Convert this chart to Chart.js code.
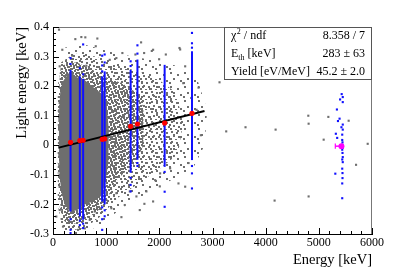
<!DOCTYPE html>
<html>
<head>
<meta charset="utf-8">
<script src="https://cdn.jsdelivr.net/npm/chart.js@4.4.0/dist/chart.umd.min.js"></script>
<style>
  html, body { margin: 0; padding: 0; background: #fff; }
</style>
</head>
<body>
<canvas id="c" width="399" height="270"></canvas>
<script>
// gamma lines used for the calibration (keV) and the mean light of each line
const lineEnergies = [330, 505, 567, 925, 972, 1460, 1588, 2100, 2614];
const lineMeans    = [0.010, 0.016, 0.017, 0.020, 0.022, 0.064, 0.072, 0.075, 0.108];
// vertical extent of the dense blue band of each line
const bandLow  = [-0.224, -0.241, -0.252, -0.190, -0.200, -0.093, -0.049, -0.073, -0.050];
const bandHigh = [0.255, 0.233, 0.225, 0.233, 0.250, 0.255, 0.290, 0.272, 0.318];
// isolated blue events of the lines
const strayBlue = [
  [330, 0.295], [330, 0.275], [330, -0.250], [330, -0.286], [330, -0.297], [505, 0.261],
  [505, -0.255], [505, -0.270], [567, 0.341], [567, 0.240], [567, -0.265], [567, -0.280],
  [925, 0.303], [925, 0.270], [925, 0.250], [925, -0.210], [925, -0.250], [925, -0.286],
  [972, 0.307], [972, 0.280], [972, -0.220], [972, -0.240], [1460, 0.284], [1460, 0.268],
  [1460, -0.110], [1460, -0.134], [1460, -0.156], [1588, 0.338], [1588, 0.310],
  [1588, -0.060], [1588, -0.070], [2100, -0.090], [2100, -0.157], [2100, -0.208],
  [2614, 0.380], [2614, 0.345], [2614, 0.330], [2614, -0.070], [2614, -0.095], [2614, -0.146]
];
// alpha events near 5.4 MeV
const alphaBlue = [
  [5430, 0.173], [5450, 0.163], [5400, 0.155], [5450, 0.146], [5340, 0.121],
  [5390, 0.090], [5360, 0.082], [5450, 0.070], [5425, 0.061], [5450, 0.053],
  [5320, 0.039], [5440, 0.036], [5345, 0.025], [5440, 0.018], [5445, 0.010],
  [5440, 0.002], [5450, -0.008], [5440, -0.015], [5445, -0.026], [5450, -0.040],
  [5440, -0.048], [5450, -0.057], [5440, -0.079], [5445, -0.094], [5310, -0.096],
  [5445, -0.111], [5440, -0.129], [5440, -0.179]
];
const alphaMean = [5425, -0.003];
const alphaErr = [5310, 5460];

// fit y = yield * (E - Eth)
const fitLine = [[110, -0.008], [2850, 0.116]];

// isolated grey events outside the dense cloud
const greyOutliers = [
  [113, 0.391], [420, 0.359], [533, 0.366], [608, 0.365], [834, 0.361], [175, 0.323],
  [363, 0.303], [804, 0.335], [1657, 0.348], [1550, 0.307], [1714, 0.312], [1883, 0.323],
  [1067, 0.289], [1192, 0.295], [1305, 0.312], [1996, 0.291], [126, 0.267], [627, 0.269],
  [1858, 0.319], [2392, 0.324], [2122, 0.307], [2379, 0.329], [2486, 0.267], [2737, 0.195],
  [2781, 0.034], [2486, -0.140], [2360, -0.129], [2015, -0.095], [1921, -0.118], [2203, -0.078],
  [188, -0.275], [471, -0.286], [597, -0.281], [1287, -0.243], [1098, -0.213], [1350, -0.202],
  [1632, -0.219], [1569, -0.173], [1757, -0.156], [1883, -0.190], [2009, -0.139], [1444, -0.156],
  [1192, -0.162], [1004, -0.185], [785, -0.224], [691, -0.252], [62, -0.241], [126, -0.219],
  [1719, -0.198], [3132, 0.213], [3258, 0.047], [3621, 0.061], [4187, 0.053], [4802, 0.100],
  [4808, 0.073], [5179, 0.096], [5561, 0.083], [5091, 0.019], [5919, 0.005], [5700, -0.066],
  [4808, -0.173], [4168, -0.187], [2600, 0.160], [2700, 0.120], [2450, 0.210], [2550, -0.060]
];

// outlines of the grey event cloud, from dense core to sparse rim
const coreShape = [
  [110, 0.00], [115, 0.12], [140, 0.19], [200, 0.22], [320, 0.25], [450, 0.23], [600, 0.22],
  [800, 0.19], [950, 0.17], [1010, 0.14], [1050, 0.05], [1040, -0.06], [990, -0.12],
  [920, -0.17], [750, -0.19], [600, -0.20], [450, -0.22], [320, -0.225], [220, -0.20],
  [160, -0.16], [120, -0.10]
];
const denseShape = [
  [95, -0.05], [100, 0.12], [130, 0.25], [250, 0.28], [450, 0.28], [700, 0.26], [1000, 0.23],
  [1300, 0.21], [1550, 0.18], [1700, 0.13], [1700, 0.00], [1550, -0.06], [1300, -0.10],
  [1150, -0.13], [1000, -0.19], [800, -0.23], [500, -0.26], [300, -0.27], [180, -0.25], [120, -0.18]
];
const mediumShape = [
  [90, -0.10], [95, 0.15], [150, 0.28], [400, 0.31], [800, 0.30], [1200, 0.27], [1600, 0.25],
  [2000, 0.22], [2300, 0.18], [2450, 0.08], [2350, -0.03], [2000, -0.08], [1600, -0.13],
  [1200, -0.18], [900, -0.24], [600, -0.28], [300, -0.29], [150, -0.27]
];
const sparseShape = [
  [90, -0.20], [90, 0.20], [200, 0.33], [600, 0.34], [1200, 0.31], [1800, 0.29], [2300, 0.27],
  [2700, 0.23], [2900, 0.12], [2850, 0.00], [2600, -0.09], [2200, -0.12], [1800, -0.16],
  [1300, -0.21], [900, -0.27], [500, -0.30], [200, -0.30]
];

const xTickValues = [0, 1000, 2000, 3000, 4000, 5000, 6000];
const xTickLabels = ['0', '1000', '2000', '3000', '4000', '5000', '6000'];
const yTickValues = [-0.3, -0.2, -0.1, 0, 0.1, 0.2, 0.3, 0.4];
const yTickLabels = ['-0.3', '-0.2', '-0.1', '0', '0.1', '0.2', '0.3', '0.4'];

const statNames  = ['chi2', 'Eth', 'Yield [eV/MeV]'];
const statValues = ['8.358 / 7', '283 \u00b1 63', '45.2 \u00b1 2.0'];

const GREY = '#6e6e6e';
const BLUE = '#1010ff';
const SERIF = '"Liberation Serif", "Times New Roman", serif';

const pts = arr => arr.map(p => ({ x: p[0], y: p[1] }));

function dotPattern(size, dots) {
  const c = document.createElement('canvas');
  c.width = size; c.height = size;
  const g = c.getContext('2d');
  g.fillStyle = GREY;
  dots.forEach(d => g.fillRect(d[0], d[1], 2, 2));
  return g.createPattern(c, 'repeat');
}
const densePat  = dotPattern(9,  [[0, 0], [3, 1], [6, 0], [1, 4], [4, 3], [7, 5], [2, 7], [5, 6], [7, 2]]);
const mediumPat = dotPattern(10, [[1, 1], [6, 2], [3, 5], [8, 6], [0, 8], [5, 9]]);
const sparsePat = dotPattern(14, [[2, 2], [9, 4], [5, 8], [12, 10], [1, 12]]);

function shapeSet(arr, fillStyle, order) {
  return {
    data: pts(arr), showLine: true, fill: 'shape', backgroundColor: fillStyle,
    borderColor: 'rgba(0,0,0,0)', borderWidth: 0, pointRadius: 0, tension: 0, order: order
  };
}

const datasets = [];
datasets.push({
  data: lineEnergies.map((e, i) => ({ x: e, y: lineMeans[i] })),
  backgroundColor: '#ff0000', borderWidth: 0, pointRadius: 2.6, order: 0
});
datasets.push({
  data: pts([alphaMean]), backgroundColor: '#ff00ff', borderWidth: 0, pointRadius: 3, order: 0
});
datasets.push({
  data: [{ x: alphaErr[0], y: alphaMean[1] }, { x: alphaErr[1], y: alphaMean[1] }],
  showLine: true, borderColor: '#ff00ff', borderWidth: 1.5, pointRadius: 0, order: 1
});
datasets.push({
  data: [{ x: alphaErr[0], y: alphaMean[1] - 0.009 }, { x: alphaErr[0], y: alphaMean[1] + 0.009 }],
  showLine: true, borderColor: '#ff00ff', borderWidth: 1.2, pointRadius: 0, order: 1
});
datasets.push({
  data: pts(fitLine), showLine: true, borderColor: '#000', borderWidth: 2, pointRadius: 0, order: 1
});
lineEnergies.forEach((e, i) => {
  datasets.push({
    data: [{ x: e, y: bandLow[i] }, { x: e, y: bandHigh[i] }],
    showLine: true, borderColor: BLUE, borderWidth: 2, pointRadius: 0, order: 2
  });
});
datasets.push({
  data: pts(strayBlue.concat(alphaBlue)), backgroundColor: BLUE, borderWidth: 0,
  pointStyle: 'rect', pointRadius: 1.5, order: 3
});
datasets.push({
  data: pts(greyOutliers), backgroundColor: GREY, borderWidth: 0,
  pointStyle: 'rect', pointRadius: 1.5, order: 4
});
datasets.push(shapeSet(coreShape, GREY, 5));
datasets.push(shapeSet(denseShape, densePat, 6));
datasets.push(shapeSet(mediumShape, mediumPat, 7));
datasets.push(shapeSet(sparseShape, sparsePat, 8));

const rootLook = {
  id: 'rootLook',
  afterDraw(chart) {
    const ctx = chart.ctx;
    const a = chart.chartArea;
    const xs = chart.scales.x, ys = chart.scales.y;
    ctx.save();
    // frame
    ctx.strokeStyle = '#777';
    ctx.lineWidth = 1;
    ctx.beginPath();
    ctx.moveTo(a.left, a.top + 0.5); ctx.lineTo(a.right - 0.5, a.top + 0.5); ctx.lineTo(a.right - 0.5, a.bottom);
    ctx.stroke();
    // inward ticks
    ctx.strokeStyle = '#000';
    ctx.beginPath();
    for (let i = 0; i <= 30; i++) {
      const px = Math.round(xs.getPixelForValue(i * 200)) + 0.5;
      const len = i % 5 === 0 ? 6 : 3;
      ctx.moveTo(px, a.bottom); ctx.lineTo(px, a.bottom - len);
    }
    for (let i = -15; i <= 20; i++) {
      const py = Math.round(ys.getPixelForValue(i * 0.02)) + 0.5;
      const len = i % 5 === 0 ? 6 : 3;
      ctx.moveTo(a.left, py); ctx.lineTo(a.left + len, py);
    }
    ctx.stroke();

    // stats box
    const bx = 224.5, by = a.top + 0.5, bw = a.right - 0.5 - bx, bh = 52;
    ctx.fillStyle = '#fff';
    ctx.fillRect(bx, by, bw, bh);
    ctx.strokeStyle = '#555';
    ctx.strokeRect(bx, by, bw, bh);
    ctx.fillStyle = '#000';
    const f = '12px ' + SERIF, fs = '8px ' + SERIF;
    const rows = [by + 11, by + 29, by + 47];
    const tx = 231;
    ctx.textBaseline = 'alphabetic';
    ctx.textAlign = 'left';
    // chi2 / ndf
    ctx.font = f; ctx.fillText('\u03c7', tx, rows[0]);
    let w = ctx.measureText('\u03c7').width;
    ctx.font = fs; ctx.fillText('2', tx + w + 0.5, rows[0] - 5);
    let w2 = ctx.measureText('2').width;
    ctx.font = f; ctx.fillText(' / ndf', tx + w + w2 + 0.5, rows[0]);
    // E_th
    ctx.fillText('E', tx, rows[1]);
    w = ctx.measureText('E').width;
    ctx.font = fs; ctx.fillText('th', tx + w, rows[1] + 3);
    w2 = ctx.measureText('th').width;
    ctx.font = f; ctx.fillText(' [keV]', tx + w + w2, rows[1]);
    ctx.fillText(statNames[2], tx, rows[2]);
    ctx.textAlign = 'right';
    statValues.forEach((v, i) => ctx.fillText(v, 365, rows[i]));

    // axis titles
    ctx.font = '14.5px ' + SERIF;
    ctx.textAlign = 'right';
    ctx.fillText('Energy [keV]', a.right, 264);
    ctx.translate(26, a.top);
    ctx.rotate(-Math.PI / 2);
    ctx.fillText('Light energy [keV]', 0, 0);
    ctx.restore();
  }
};

const tickFont = { family: SERIF, size: 12 };

new Chart(document.getElementById('c'), {
  type: 'scatter',
  data: { datasets: datasets },
  options: {
    responsive: false,
    animation: false,
    devicePixelRatio: 1,
    layout: { padding: { top: 27, right: 27, left: 0, bottom: 0 } },
    plugins: { legend: { display: false }, tooltip: { enabled: false } },
    scales: {
      x: {
        type: 'linear', min: 0, max: 6000,
        afterBuildTicks: s => { s.ticks = xTickValues.map(v => ({ value: v })); },
        afterFit: s => { s.height = 36; },
        ticks: { font: tickFont, color: '#000', padding: 2, maxRotation: 0, autoSkip: false,
                 callback: (v, i) => xTickLabels[i] },
        grid: { display: false, drawTicks: false },
        border: { display: true, color: '#000', width: 1 }
      },
      y: {
        type: 'linear', min: -0.3, max: 0.4,
        afterBuildTicks: s => { s.ticks = yTickValues.map(v => ({ value: v })); },
        afterFit: s => { s.width = 53; },
        ticks: { font: tickFont, color: '#000', padding: 4, autoSkip: false,
                 callback: (v, i) => yTickLabels[i] },
        grid: { display: false, drawTicks: false },
        border: { display: true, color: '#000', width: 1 }
      }
    }
  },
  plugins: [rootLook]
});
</script>
</body>
</html>
